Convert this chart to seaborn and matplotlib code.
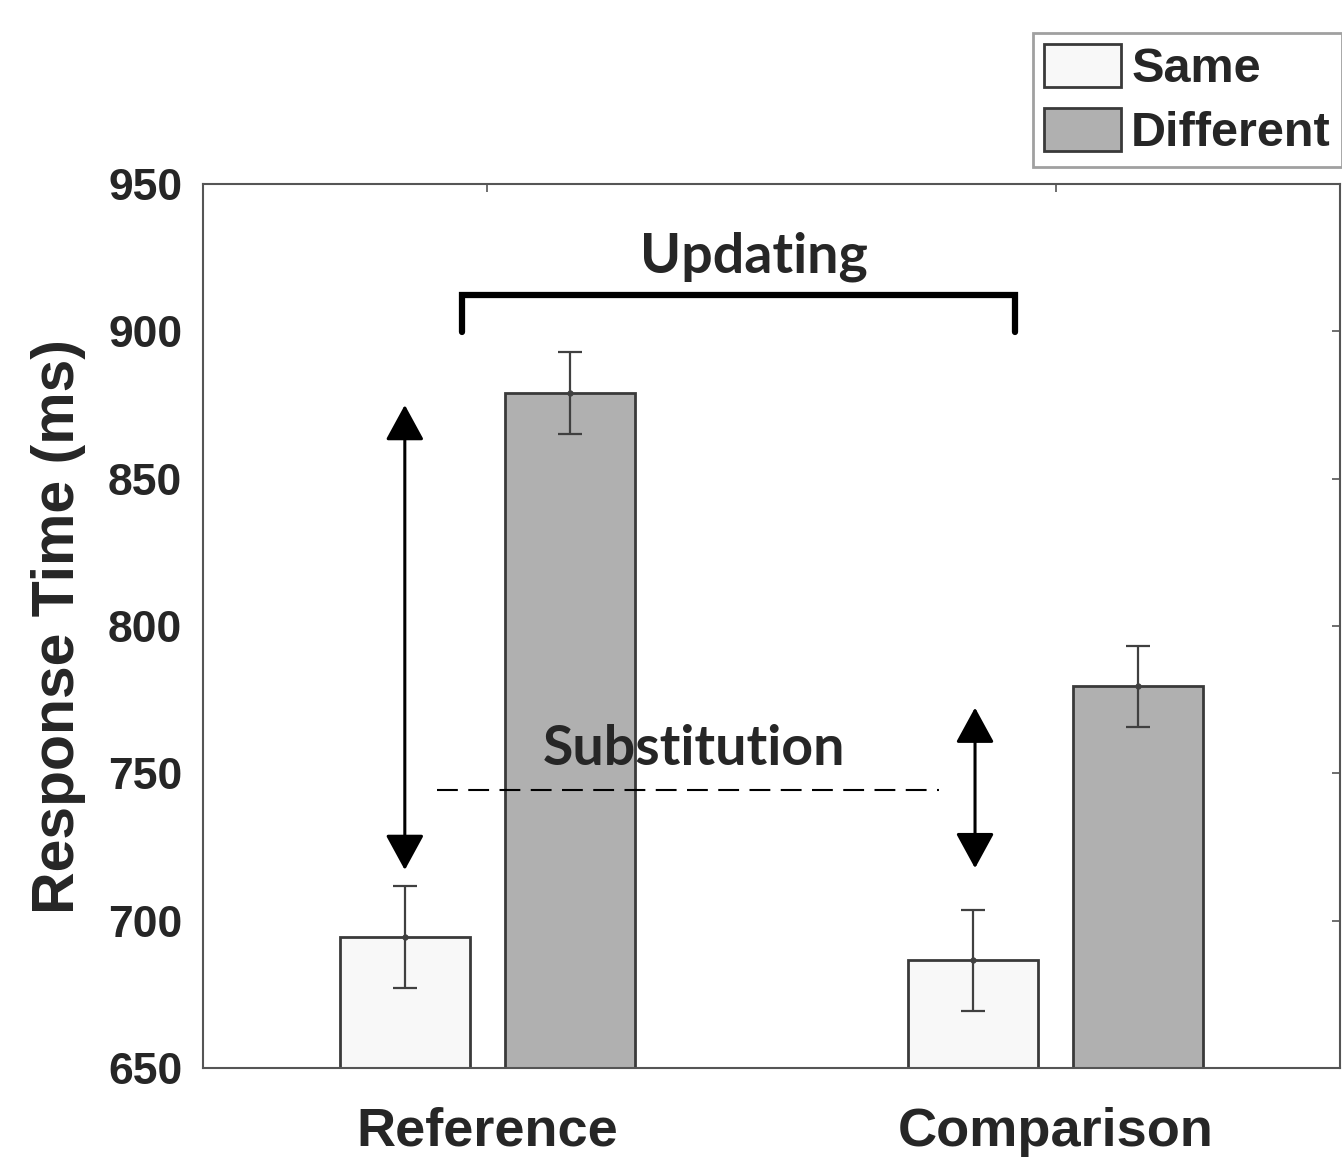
import matplotlib
matplotlib.use("Agg")
import matplotlib.pyplot as plt
import seaborn as sns
import pandas as pd
import numpy as np

# ---- data ----
tasks = ["Reference", "Comparison"]
conditions = ["Same", "Different"]
same_rt = [694.5, 686.5]
diff_rt = [879.0, 779.5]
same_se = [17.3, 17.2]
diff_se = [14.0, 13.8]
y_ticks = [650, 700, 750, 800, 850, 900, 950]

df = pd.DataFrame({
    "Task": tasks * 2,
    "Condition": ["Same"] * 2 + ["Different"] * 2,
    "RT": same_rt + diff_rt,
    "SE": same_se + diff_se,
})

sns.set_style("white")
plt.rcParams["font.family"] = ["Liberation Sans", "DejaVu Sans"]
plt.rcParams["font.weight"] = "bold"

fig = plt.figure(figsize=(13.42, 11.6), dpi=100)
ax = fig.add_axes([203 / 1342, 92 / 1160, (1340 - 203) / 1342, (1068 - 184) / 1160])

edge = "#3a3a3a"
sns.barplot(data=df, x="Task", y="RT", hue="Condition", order=tasks, hue_order=conditions,
            palette={"Same": "#f8f8f8", "Different": "#b0b0b0"}, edgecolor=edge,
            linewidth=2, width=0.58, gap=0.21, errorbar=None, ax=ax, legend=True)

# error bars at bar centres
bars = [p for p in ax.patches if p.get_height() > 0][:4]
for p in bars:
    xc = p.get_x() + p.get_width() / 2
    h = p.get_y() + p.get_height()
    row = df.iloc[int(np.argmin(np.abs(df["RT"].values - h)))]
    ax.errorbar(xc, row["RT"], yerr=row["SE"], fmt="o", ms=3.5, color="#404040",
                ecolor="#404040", elinewidth=1.6, capsize=8.5, capthick=1.6, zorder=5)

ax.set_ylim(650, 950)
ax.set_xlim(-0.5, 1.5)
ax.set_yticks(y_ticks)
ax.set_yticklabels([str(t) for t in y_ticks], fontsize=32, fontweight="bold")
ax.set_xticks([0, 1])
ax.set_xticklabels(tasks, fontsize=39, fontweight="bold")
ax.set_xlabel("")
ax.set_ylabel("Response Time (ms)", fontsize=42.5, fontweight="bold", labelpad=16)

for s in ax.spines.values():
    s.set_visible(True)
    s.set_color("#555555")
    s.set_linewidth(1.5)
ax.tick_params(axis="both", direction="in", length=6, width=1.2, color="#555555",
               top=True, right=True)
ax.tick_params(axis="y", pad=15)
ax.tick_params(axis="x", pad=28)

# annotations
ax.annotate("", xy=(-0.145, 875.0), xytext=(-0.145, 717.2),
            arrowprops=dict(arrowstyle="<|-|>,head_length=1.1,head_width=0.6",
                            color="black", lw=2.2, shrinkA=0, shrinkB=0, mutation_scale=20))
ax.annotate("", xy=(0.858, 772.3), xytext=(0.858, 717.8),
            arrowprops=dict(arrowstyle="<|-|>,head_length=1.1,head_width=0.6",
                            color="black", lw=2.2, shrinkA=0, shrinkB=0, mutation_scale=20))
# Updating bracket
ax.plot([-0.044, -0.044, 0.928, 0.928], [899.7, 912.3, 912.3, 899.7], color="black",
        lw=4.5, solid_joinstyle="miter", zorder=6)
ax.text(0.469, 920, "Updating", ha="center", va="baseline", fontsize=40, fontweight="bold",
        family=["Lato", "DejaVu Sans"], zorder=6)
# Substitution dashed line
ax.plot([-0.0876, 0.795], [744.3, 744.3], color="black", lw=1.5, linestyle=(0, (10, 5)), zorder=6)
ax.text(0.363, 752.8, "Substitution", ha="center", va="baseline", fontsize=40, fontweight="bold",
        family=["Lato", "DejaVu Sans"], zorder=6)

# legend
handles, labels = ax.get_legend_handles_labels()
if ax.legend_:
    ax.legend_.remove()
leg = fig.legend(handles, labels, loc="upper left", bbox_to_anchor=(1033 / 1342, 1 - 33 / 1160),
                 bbox_transform=fig.transFigure, borderaxespad=0,
                 prop={"weight": "bold", "size": 35}, frameon=True, fancybox=False,
                 handlelength=1.6, handleheight=1.0, handletextpad=0.2, labelspacing=0.32,
                 borderpad=0.22)
leg.get_frame().set_edgecolor("#888888")
leg.get_frame().set_linewidth(2)

fig.savefig("out.png", dpi=100)
